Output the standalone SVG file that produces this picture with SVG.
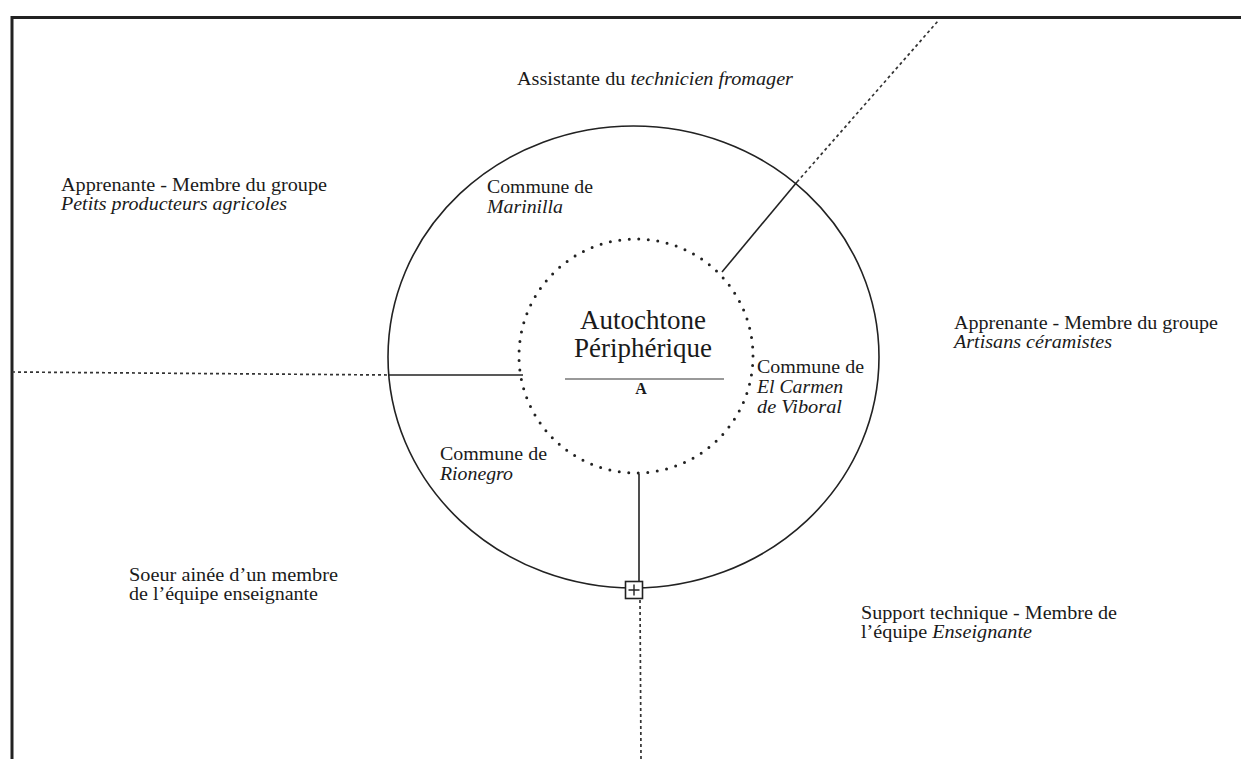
<svg xmlns="http://www.w3.org/2000/svg" width="1241" height="759" viewBox="0 0 1241 759">
<style>
.t{font-family:"Liberation Serif","Times New Roman",serif;font-size:18px;fill:#1a1a1a}
.i{font-style:italic}
.solid{stroke:#222;stroke-width:1.6;fill:none}
.dash{stroke:#333;stroke-width:1.7;fill:none;stroke-dasharray:3 3}
</style>
<rect width="1241" height="759" fill="#fff"/>
<g id="frame">
<path d="M12 759 V17.5 H1241" stroke="#222" stroke-width="3" fill="none"/>
</g>
<g id="outer-circle">
<ellipse cx="633.5" cy="357" rx="245.5" ry="231" class="solid"/>
</g>
<g id="inner-circle">
<circle cx="636" cy="356" r="117" fill="none" stroke="#222" stroke-width="3" stroke-linecap="round" stroke-dasharray="0 9.55"/>
</g>
<g id="connectors">
<line x1="388" y1="375" x2="523" y2="375" class="solid"/>
<line x1="12" y1="372" x2="388" y2="375" class="dash"/>
<line x1="722" y1="272" x2="797" y2="182" class="solid"/>
<line x1="797" y1="182" x2="938" y2="21" class="dash"/>
<line x1="639" y1="474" x2="639" y2="581" class="solid"/>
<line x1="640" y1="600" x2="641" y2="759" class="dash"/>
</g>
<g id="plus-box">
<rect x="625.5" y="581.5" width="17" height="17" fill="#fff" stroke="#222" stroke-width="1.6"/>
<path d="M628.5 590 H639.5 M634 584.5 V595.5" stroke="#222" stroke-width="1.4"/>
</g>
<g id="center">
<text x="643" y="329" text-anchor="middle" class="t" style="font-size:27px">Autochtone</text>
<text x="643" y="357" text-anchor="middle" class="t" style="font-size:27px">Périphérique</text>
<line x1="565" y1="379" x2="724" y2="379" stroke="#999" stroke-width="2"/>
<text x="641" y="394" text-anchor="middle" class="t" style="font-size:16px;font-weight:bold">A</text>
</g>
<g id="assistante">
<text x="517" y="85" class="t" textLength="276" lengthAdjust="spacingAndGlyphs">Assistante du <tspan class="i">technicien fromager</tspan></text>
</g>
<g id="apprenante-petits">
<text x="61" y="191" class="t" textLength="266" lengthAdjust="spacingAndGlyphs">Apprenante - Membre du groupe</text>
<text x="61" y="210" class="t i" textLength="226" lengthAdjust="spacingAndGlyphs">Petits producteurs agricoles</text>
</g>
<g id="marinilla">
<text x="487" y="193" class="t" textLength="106" lengthAdjust="spacingAndGlyphs">Commune de</text>
<text x="487" y="213" class="t i" textLength="76" lengthAdjust="spacingAndGlyphs">Marinilla</text>
</g>
<g id="apprenante-artisans">
<text x="954" y="329" class="t" textLength="264" lengthAdjust="spacingAndGlyphs">Apprenante - Membre du groupe</text>
<text x="954" y="348" class="t i" textLength="158" lengthAdjust="spacingAndGlyphs">Artisans céramistes</text>
</g>
<g id="carmen">
<text x="757" y="373" class="t" textLength="107" lengthAdjust="spacingAndGlyphs">Commune de</text>
<text x="757" y="393" class="t i" textLength="86" lengthAdjust="spacingAndGlyphs">El Carmen</text>
<text x="757" y="413" class="t i" textLength="85" lengthAdjust="spacingAndGlyphs">de Viboral</text>
</g>
<g id="rionegro">
<text x="440" y="460" class="t" textLength="107" lengthAdjust="spacingAndGlyphs">Commune de</text>
<text x="440" y="480" class="t i" textLength="73" lengthAdjust="spacingAndGlyphs">Rionegro</text>
</g>
<g id="soeur">
<text x="129" y="581" class="t" textLength="209" lengthAdjust="spacingAndGlyphs">Soeur ainée d’un membre</text>
<text x="129" y="600" class="t" textLength="189" lengthAdjust="spacingAndGlyphs">de l’équipe enseignante</text>
</g>
<g id="support">
<text x="861" y="619" class="t" textLength="256" lengthAdjust="spacingAndGlyphs">Support technique - Membre de</text>
<text x="861" y="638" class="t" textLength="171" lengthAdjust="spacingAndGlyphs">l’équipe <tspan class="i">Enseignante</tspan></text>
</g>
</svg>
